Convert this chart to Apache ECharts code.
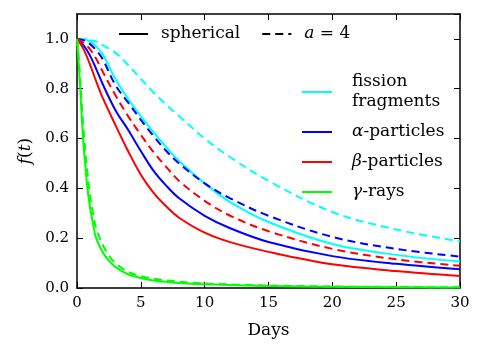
<!DOCTYPE html>
<html>
<head>
<meta charset="utf-8">
<script src="https://cdn.jsdelivr.net/npm/echarts@6/dist/echarts.min.js"></script>
<style>
html,body{margin:0;padding:0;background:#fff;}
#c{width:484px;height:359px;}
</style>
</head>
<body>
<div id="c"></div>
<script>
// ---- data ----
const tDays    = [0, 0.5, 1, 1.5, 2, 3, 4, 5, 6, 7, 8, 10, 12, 15, 20, 25, 30];
const ffSph    = [1.0, 1.0, 0.99, 0.97, 0.94, 0.84, 0.76, 0.69, 0.625, 0.565, 0.51, 0.42, 0.345, 0.265, 0.177, 0.133, 0.106];
const ffA4     = [1.0, 1.0, 0.995, 0.99, 0.975, 0.945, 0.895, 0.84, 0.785, 0.735, 0.69, 0.60, 0.525, 0.43, 0.305, 0.235, 0.187];
const alphaSph = [1.0, 0.975, 0.935, 0.88, 0.82, 0.715, 0.635, 0.55, 0.47, 0.41, 0.36, 0.29, 0.24, 0.185, 0.128, 0.097, 0.075];
const alphaA4  = [1.0, 0.995, 0.98, 0.955, 0.92, 0.815, 0.745, 0.675, 0.61, 0.55, 0.50, 0.42, 0.36, 0.29, 0.205, 0.157, 0.126];
const betaSph  = [1.0, 0.96, 0.90, 0.83, 0.765, 0.655, 0.55, 0.455, 0.382, 0.327, 0.282, 0.222, 0.184, 0.145, 0.095, 0.068, 0.048];
const betaA4   = [1.0, 0.985, 0.96, 0.92, 0.87, 0.775, 0.69, 0.615, 0.545, 0.485, 0.43, 0.35, 0.29, 0.228, 0.157, 0.115, 0.089];
const tGamma   = [0, 0.1, 0.25, 0.45, 0.6, 0.8, 1, 1.25, 1.5, 2, 2.5, 3, 4, 5, 6, 8, 10, 15, 20, 25, 30];
const gammaSph = [1.0, 0.93, 0.8, 0.62, 0.52, 0.41, 0.33, 0.26, 0.2, 0.145, 0.11, 0.085, 0.055, 0.04, 0.03, 0.02, 0.015, 0.008, 0.005, 0.003, 0.002];
const gammaA4  = [1.0, 0.95, 0.84, 0.68, 0.58, 0.47, 0.38, 0.30, 0.24, 0.175, 0.13, 0.10, 0.065, 0.048, 0.037, 0.025, 0.018, 0.01, 0.006, 0.004, 0.003];
const xTickValues = [0, 5, 10, 15, 20, 25, 30];
const yTickValues = [0.0, 0.2, 0.4, 0.6, 0.8, 1.0];

const FONT = 'DejaVu Serif';
const C_FF = '#00ffff', C_A = '#0000ff', C_B = '#ff0000', C_G = '#00ff00';

function mk(name, xs, ys, color, dashed, z) {
  return {
    type: 'line', name: name,
    data: xs.map((x, i) => [x, ys[i]]),
    symbol: 'none', showSymbol: false,
    smooth: 0.35,
    lineStyle: { color: color, width: 2, type: dashed ? [8, 5] : 'solid' },
    itemStyle: { color: color },
    z: z || 2,
    animation: false
  };
}

const series = [
  mk('ff', tDays, ffSph, C_FF, false),
  mk('alpha', tDays, alphaSph, C_A, false),
  mk('beta', tDays, betaSph, C_B, false),
  mk('gamma', tGamma, gammaSph, C_G, false),
  mk('ffA4', tDays, ffA4, C_FF, true),
  mk('alphaA4', tDays, alphaA4, C_A, true),
  mk('betaA4', tDays, betaA4, C_B, true),
  mk('gammaA4', tGamma, gammaA4, C_G, true),
  mk('spherical', [], [], '#000', false),
  mk('a4', [], [], '#000', true)
];

const labels = {
  spherical: '{g| }spherical',
  a4: '{g| }{i|a} = 4',
  ff: '{h| }fission\n{h| }fragments',
  alpha: '{h| }{i|α}-particles',
  beta: '{h| }{i|β}-particles',
  gamma: '{h| }{i|γ}-rays'
};
const rich = {
  i: { fontStyle: 'italic', fontFamily: FONT, fontSize: 17, lineHeight: 20, color: '#000' },
  g: { width: 8, fontSize: 17, lineHeight: 20 },
  h: { width: 15, fontSize: 17, lineHeight: 20 }
};
const legendText = { fontFamily: FONT, fontSize: 17, color: '#000', lineHeight: 20, rich: rich };
const hiddenSymbol = { opacity: 0, color: 'rgba(0,0,0,0)', borderWidth: 0 };

function axisCommon(showLabel) {
  return {
    axisLine: { show: true, onZero: false, lineStyle: { color: '#000', width: 1.5 } },
    axisTick: { show: true, inside: true, length: 6, lineStyle: { color: '#000', width: 1 } },
    splitLine: { show: false },
    axisLabel: { show: showLabel, color: '#000', fontFamily: FONT, fontSize: 15, margin: 8 }
  };
}

const option = {
  backgroundColor: '#fff',
  animation: false,
  grid: { left: 77, right: 24, top: 14, bottom: 71, containLabel: false },
  legend: [
    {
      data: ['spherical', 'a4'], orient: 'horizontal', left: 118, top: 24, padding: 0,
      itemWidth: 29, itemHeight: 14, itemGap: 21, itemStyle: hiddenSymbol,
      formatter: n => labels[n], textStyle: legendText, selectedMode: false
    },
    {
      data: ['ff', 'alpha', 'beta', 'gamma'], orient: 'vertical', left: 301, top: 72, padding: 0,
      itemWidth: 30, itemHeight: 14, itemGap: 10, itemStyle: hiddenSymbol,
      formatter: n => labels[n], textStyle: legendText, selectedMode: false
    }
  ],
  xAxis: [
    Object.assign({
      type: 'value', min: 0, max: 30, interval: 5, position: 'bottom',
      name: 'Days', nameLocation: 'middle', nameGap: 34,
      nameTextStyle: { fontFamily: FONT, fontSize: 17, color: '#000' }
    }, axisCommon(true)),
    Object.assign({ type: 'value', min: 0, max: 30, interval: 5, position: 'top' }, axisCommon(false))
  ],
  yAxis: [
    (function () {
      const a = Object.assign({
        type: 'value', min: 0, max: 1.1, interval: 0.2, position: 'left',
        name: '{i|f}({i|t})', nameLocation: 'middle', nameGap: 42,
        nameTextStyle: { fontFamily: FONT, fontSize: 17, color: '#000',
          rich: { i: { fontStyle: 'italic', fontFamily: FONT, fontSize: 17, color: '#000' } } }
      }, axisCommon(true));
      a.axisLabel.formatter = v => (yTickValues.some(t => Math.abs(t - v) < 1e-6) ? v.toFixed(1) : '');
      a.axisLabel.showMaxLabel = false;
      return a;
    })(),
    Object.assign({ type: 'value', min: 0, max: 1.1, interval: 0.2, position: 'right' }, axisCommon(false))
  ],
  series: series
};

const chart = echarts.init(document.getElementById('c'), null, { renderer: 'canvas' });
chart.setOption(option);
</script>
</body>
</html>
